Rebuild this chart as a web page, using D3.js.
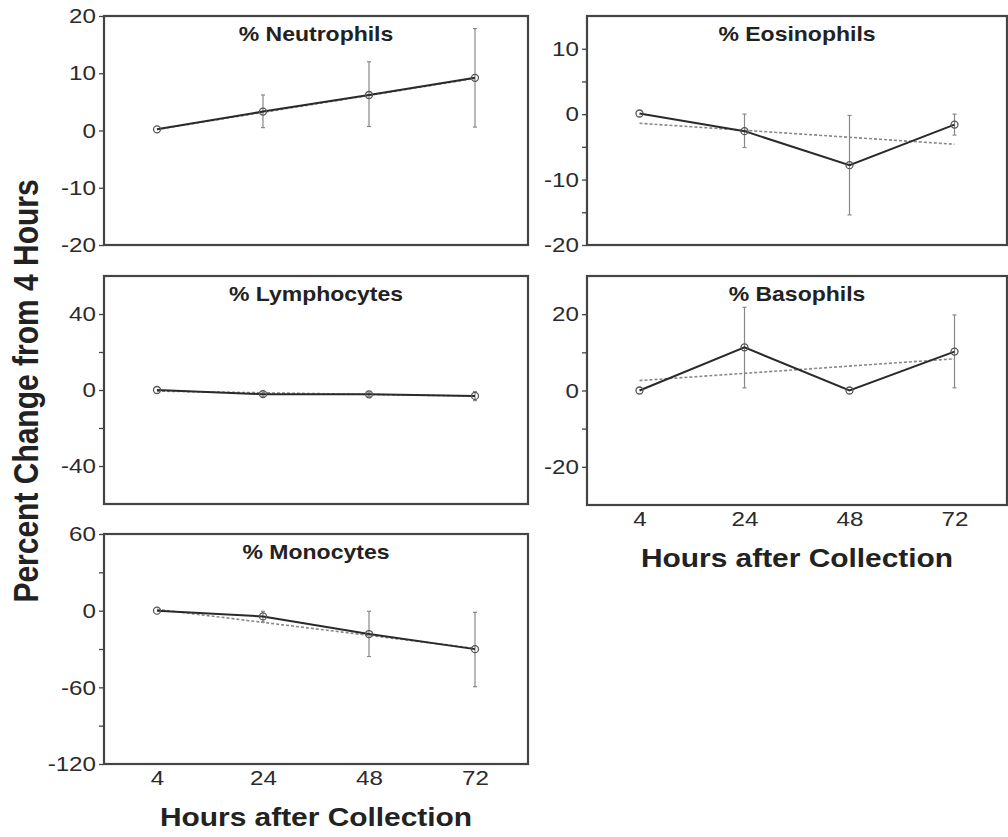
<!DOCTYPE html>
<html>
<head>
<meta charset="utf-8">
<script src="https://cdn.jsdelivr.net/npm/d3@7"></script>
<style>
  html, body { margin: 0; padding: 0; background: #fff; }
  svg { display: block; font-family: "Liberation Sans", Arial, sans-serif; }
</style>
</head>
<body>
<div id="chart"></div>
<script>
// Dati (media, estremi delle barre d'errore, retta di tendenza a 4h e 72h)
var hours = ['4', '24', '48', '72'];

var neutrophilsMean = [0.2, 3.3, 6.2, 9.2];
var neutrophilsLow  = [null, 0.5, 0.7, 0.6];
var neutrophilsHigh = [null, 6.2, 12.0, 17.8];
var neutrophilsTrend = [0.2, 9.1];

var eosinophilsMean = [0.1, -2.6, -7.8, -1.6];
var eosinophilsLow  = [null, -5.1, -15.4, -3.2];
var eosinophilsHigh = [null, 0.0, -0.2, 0.0];
var eosinophilsTrend = [-1.4, -4.6];

var lymphocytesMean = [0, -2.2, -2.3, -3.1];
var lymphocytesLow  = [null, -3.4, -3.5, -5.6];
var lymphocytesHigh = [null, -1.0, -1.1, -0.8];
var lymphocytesTrend = [-0.6, -3.2];

var basophilsMean = [0, 11.3, 0, 10.2];
var basophilsLow  = [null, 0.7, null, 0.7];
var basophilsHigh = [null, 21.8, null, 19.8];
var basophilsTrend = [2.6, 8.3];

var monocytesMean = [0, -4.5, -18.3, -30.1];
var monocytesLow  = [null, -9.0, -35.9, -59.5];
var monocytesHigh = [null, -0.5, -0.5, -1.3];
var monocytesTrend = [1.0, -29.5];

var neutrophilsTicks = [-20, -10, 0, 10, 20], neutrophilsMinor = [];
var eosinophilsTicks = [-20, -10, 0, 10], eosinophilsMinor = [-15, -5, 5];
var lymphocytesTicks = [-40, 0, 40], lymphocytesMinor = [-20, 20];
var basophilsTicks = [-20, 0, 20], basophilsMinor = [-10, 10];
var monocytesTicks = [-120, -60, 0, 60], monocytesMinor = [-90, -30, 30];

var width = 1008, height = 837;
var stretch = 1.15; // il testo originale è allargato orizzontalmente

var svg = d3.select('#chart').append('svg')
    .attr('width', width)
    .attr('height', height);

// Pannelli: posizione del riquadro + dati
var panels = [
    {title: '% Neutrophils', box: [104, 528, 16, 245], domain: [-20, 20],
     mean: neutrophilsMean, low: neutrophilsLow, high: neutrophilsHigh, trend: neutrophilsTrend,
     ticks: neutrophilsTicks, minor: neutrophilsMinor, xLabels: false},
    {title: '% Eosinophils', box: [587, 1007, 16, 245], domain: [-20, 15],
     mean: eosinophilsMean, low: eosinophilsLow, high: eosinophilsHigh, trend: eosinophilsTrend,
     ticks: eosinophilsTicks, minor: eosinophilsMinor, xLabels: false},
    {title: '% Lymphocytes', box: [104, 528, 276, 504], domain: [-60, 60],
     mean: lymphocytesMean, low: lymphocytesLow, high: lymphocytesHigh, trend: lymphocytesTrend,
     ticks: lymphocytesTicks, minor: lymphocytesMinor, xLabels: false},
    {title: '% Basophils', box: [587, 1007, 276, 505], domain: [-30, 30],
     mean: basophilsMean, low: basophilsLow, high: basophilsHigh, trend: basophilsTrend,
     ticks: basophilsTicks, minor: basophilsMinor, xLabels: true},
    {title: '% Monocytes', box: [104, 528, 534, 764], domain: [-120, 60],
     mean: monocytesMean, low: monocytesLow, high: monocytesHigh, trend: monocytesTrend,
     ticks: monocytesTicks, minor: monocytesMinor, xLabels: true}
];

function styleLabels(sel) {
    sel.selectAll('text')
        .attr('font-size', 21)
        .attr('fill', '#2b2b2b')
        .attr('font-family', '"Liberation Sans", Arial, sans-serif')
        .attr('transform', 'scale(' + stretch + ',1)');
}

panels.forEach(function(p) {
    var x0 = p.box[0], x1 = p.box[1], y0 = p.box[2], y1 = p.box[3];
    var x = d3.scalePoint().domain(hours).range([x0, x1]).padding(0.5);
    var y = d3.scaleLinear().domain(p.domain).range([y1, y0]);
    var g = svg.append('g');

    // Tacche secondarie
    g.append('g')
        .attr('transform', 'translate(' + x0 + ',0)')
        .call(d3.axisLeft(y).tickValues(p.minor).tickSize(5).tickFormat(''))
        .call(s => s.select('.domain').remove())
        .selectAll('line').attr('stroke', '#444').attr('stroke-width', 1.3);

    // Asse Y principale (trattino semplice come segno meno)
    var ya = g.append('g')
        .attr('transform', 'translate(' + x0 + ',0)')
        .call(d3.axisLeft(y).tickValues(p.ticks).tickSize(5).tickPadding(2).tickFormat(d => String(d)));
    ya.select('.domain').remove();
    ya.selectAll('line').attr('stroke', '#444').attr('stroke-width', 1.3);
    styleLabels(ya);

    // Etichette asse X (solo pannelli in basso)
    if (p.xLabels) {
        var xa = g.append('g')
            .attr('transform', 'translate(0,' + y1 + ')')
            .call(d3.axisBottom(x).tickSize(0).tickPadding(6));
        xa.select('.domain').remove();
        styleLabels(xa);

        g.append('text')
            .attr('transform', 'translate(' + ((x0 + x1) / 2) + ',' + (y1 + 62) + ') scale(' + stretch + ',1)')
            .attr('text-anchor', 'middle')
            .attr('font-size', 26)
            .attr('font-weight', 'bold')
            .attr('fill', '#222')
            .text('Hours after Collection');
    }

    // Cornice
    g.append('rect')
        .attr('x', x0).attr('y', y0)
        .attr('width', x1 - x0).attr('height', y1 - y0)
        .attr('fill', 'none')
        .attr('stroke', '#444')
        .attr('stroke-width', 2.2);

    // Titolo
    g.append('text')
        .attr('transform', 'translate(' + ((x0 + x1) / 2) + ',' + (y0 + 25) + ') scale(' + stretch + ',1)')
        .attr('text-anchor', 'middle')
        .attr('font-size', 20)
        .attr('font-weight', 'bold')
        .attr('fill', '#222')
        .text(p.title);

    // Retta di tendenza tratteggiata
    g.append('line')
        .attr('x1', x(hours[0])).attr('y1', y(p.trend[0]))
        .attr('x2', x(hours[hours.length - 1])).attr('y2', y(p.trend[1]))
        .attr('stroke', '#888')
        .attr('stroke-width', 1.6)
        .attr('stroke-dasharray', '3,2');

    // Barre d'errore
    var errs = hours.map((h, i) => ({h: h, lo: p.low[i], hi: p.high[i]})).filter(d => d.lo !== null);
    var eg = g.append('g').attr('stroke', '#888').attr('stroke-width', 1.2);
    eg.selectAll('.bar').data(errs).enter().append('line')
        .attr('x1', d => x(d.h)).attr('x2', d => x(d.h))
        .attr('y1', d => y(d.lo)).attr('y2', d => y(d.hi));
    eg.selectAll('.capLo').data(errs).enter().append('line')
        .attr('x1', d => x(d.h) - 2).attr('x2', d => x(d.h) + 2)
        .attr('y1', d => y(d.lo)).attr('y2', d => y(d.lo));
    eg.selectAll('.capHi').data(errs).enter().append('line')
        .attr('x1', d => x(d.h) - 2).attr('x2', d => x(d.h) + 2)
        .attr('y1', d => y(d.hi)).attr('y2', d => y(d.hi));

    // Linea delle medie
    var pts = hours.map((h, i) => ({h: h, v: p.mean[i]}));
    g.append('path')
        .datum(pts)
        .attr('fill', 'none')
        .attr('stroke', '#2a2a2a')
        .attr('stroke-width', 2)
        .attr('d', d3.line().x(d => x(d.h)).y(d => y(d.v)));

    g.selectAll('circle').data(pts).enter().append('circle')
        .attr('cx', d => x(d.h)).attr('cy', d => y(d.v))
        .attr('r', 3.5)
        .attr('fill', 'none')
        .attr('stroke', '#555')
        .attr('stroke-width', 1.3);
});

// Titolo asse Y comune
svg.append('text')
    .attr('transform', 'translate(38,391) scale(' + stretch + ',1) rotate(-90)')
    .attr('text-anchor', 'middle')
    .attr('font-size', 30)
    .attr('font-weight', 'bold')
    .attr('fill', '#222')
    .text('Percent Change from 4 Hours');
</script>
</body>
</html>
